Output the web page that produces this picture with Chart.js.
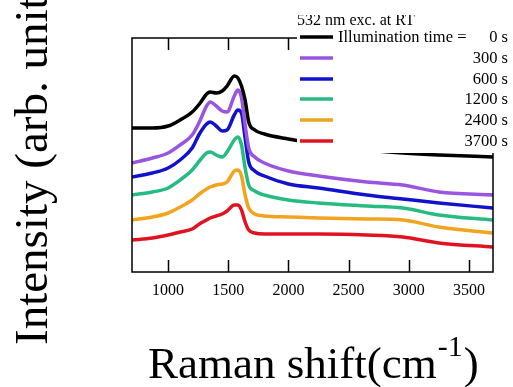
<!DOCTYPE html>
<html>
<head>
<meta charset="utf-8">
<script src="https://cdn.jsdelivr.net/npm/chart.js@4/dist/chart.umd.min.js"></script>
<style>
  html, body { margin: 0; padding: 0; background: #fff; }
  #wrap { width: 513px; height: 387px; position: relative; }
</style>
</head>
<body>
<div id="wrap"><canvas id="ramanCanvas"></canvas></div>
<script>
// Raman shift (cm-1) sampling points shared by all spectra
const shift = [700, 870, 1000, 1100, 1200, 1260, 1320, 1350, 1400, 1450, 1490, 1550, 1580,
  1610, 1640, 1670, 1720, 1800, 2000, 2250, 2650, 2950, 3250, 3700];

// intensities (arb. units, offset spectra)
const t0    = [144, 144, 146, 152, 160, 168, 178, 180, 179, 181, 186, 196, 194, 186, 172, 150, 142, 138, 133, 128, 122, 119, 117, 115];
const t300  = [109, 114, 119, 127, 137, 150, 166, 170, 166, 161, 160, 176, 182, 174, 147, 124, 115, 109, 101, 96, 90, 87, 80, 77];
const t600  = [95, 99, 104, 112, 124, 138, 148, 150, 146, 141, 142, 157, 162, 159, 134, 110, 101, 96, 88, 84, 77, 73, 69, 64];
const t1200 = [77, 80, 84, 92, 102, 111, 119, 120, 117, 115, 120, 132, 135, 127, 104, 87, 81, 77, 72, 69, 66, 64, 57, 52];
const t2400 = [52, 55, 59, 65, 72, 78, 83, 85, 87, 88, 90, 101, 102, 96, 77, 64, 58, 56, 55, 54, 53, 52, 45, 39];
const t3700 = [32, 34, 37, 40, 43, 48, 52, 54, 56, 58, 61, 67, 67, 62, 50, 42, 39, 38, 38, 38, 37, 35, 29, 25];

const seriesLabels = ['0 s', '300 s', '600 s', '1200 s', '2400 s', '3700 s'];
const seriesData = [t0, t300, t600, t1200, t2400, t3700];
const seriesColors = ['#000000', '#9a55e0', '#1212cc', '#26bb80', '#f2a41e', '#e01420'];
const xTicks = [1000, 1500, 2000, 2500, 3000, 3500];

const serif = '"Liberation Serif", "DejaVu Serif", serif';

// frame with inward ticks, top and bottom
const framePlugin = {
  id: 'frame',
  afterDatasetsDraw(chart) {
    const { ctx, chartArea: a } = chart;
    const xs = chart.scales.x;
    ctx.save();
    ctx.strokeStyle = '#000';
    ctx.lineWidth = 1.5;
    ctx.strokeRect(a.left, a.top, a.right - a.left, a.bottom - a.top);
    ctx.beginPath();
    xTicks.forEach(v => {
      const px = Math.round(xs.getPixelForValue(v)) + 0.5;
      ctx.moveTo(px, a.bottom); ctx.lineTo(px, a.bottom - 12);
      ctx.moveTo(px, a.top); ctx.lineTo(px, a.top + 12);
    });
    ctx.stroke();
    ctx.restore();
  }
};

// legend box, axis titles
const textPlugin = {
  id: 'texts',
  afterDraw(chart) {
    const ctx = chart.ctx;
    ctx.save();
    // legend box covers upper right of plot
    ctx.fillStyle = '#fff';
    ctx.fillRect(297, 0, 216, 153);

    ctx.fillStyle = '#000';
    ctx.save();
    ctx.beginPath();
    ctx.rect(0, 15, 513, 40);
    ctx.clip();
    ctx.font = '16px ' + serif;
    ctx.textAlign = 'left';
    ctx.textBaseline = 'alphabetic';
    ctx.fillText('532 nm exc. at RT', 297, 25);
    ctx.restore();

    ctx.font = '16.5px ' + serif;
    ctx.textBaseline = 'middle';
    const rows = [37, 58, 79, 99, 120, 141];
    seriesLabels.forEach((lab, i) => {
      ctx.strokeStyle = seriesColors[i];
      ctx.lineWidth = 3.5;
      ctx.beginPath();
      ctx.moveTo(300, rows[i]);
      ctx.lineTo(333, rows[i]);
      ctx.stroke();
      ctx.textAlign = 'right';
      ctx.fillText(lab, 508, rows[i] + 1);
    });
    ctx.textAlign = 'left';
    ctx.fillText('Illumination time =', 338, rows[0] + 1);

    // x title
    ctx.textBaseline = 'alphabetic';
    ctx.font = '45px ' + serif;
    const main = 'Raman shift(cm';
    ctx.fillText(main, 148, 378);
    const w = ctx.measureText(main).width;
    ctx.font = '30px ' + serif;
    ctx.fillText('-1', 148 + w + 1, 356);
    const w2 = ctx.measureText('-1').width;
    ctx.font = '45px ' + serif;
    ctx.fillText(')', 148 + w + w2 + 2, 378);

    // y title
    ctx.translate(47, 345);
    ctx.rotate(-Math.PI / 2);
    ctx.font = '47px ' + serif;
    ctx.fillText('Intensity (arb. units)', 0, 0);
    ctx.restore();
  }
};

new Chart(document.getElementById('ramanCanvas'), {
  type: 'line',
  data: {
    labels: shift,
    datasets: seriesData.map((d, i) => ({
      label: seriesLabels[i],
      data: d.map((v, j) => ({ x: shift[j], y: v })),
      borderColor: seriesColors[i],
      borderWidth: 3.5,
      pointRadius: 0,
      cubicInterpolationMode: 'monotone',
      fill: false
    }))
  },
  options: {
    responsive: true,
    maintainAspectRatio: false,
    animation: false,
    layout: { padding: { left: 132, right: 20, top: 38, bottom: 0 } },
    plugins: {
      legend: { display: false },
      tooltip: { enabled: false }
    },
    scales: {
      x: {
        type: 'linear',
        min: 700,
        max: 3700,
        afterBuildTicks: axis => { axis.ticks = xTicks.map(v => ({ value: v })); },
        afterFit: axis => { axis.height = 115; },
        grid: { display: false, drawTicks: false },
        border: { display: false },
        ticks: {
          padding: 9,
          maxRotation: 0,
          color: '#000',
          font: { family: serif, size: 16 },
          callback: v => String(v)
        }
      },
      y: {
        display: false,
        min: 0,
        max: 234
      }
    }
  },
  plugins: [framePlugin, textPlugin]
});
</script>
</body>
</html>
